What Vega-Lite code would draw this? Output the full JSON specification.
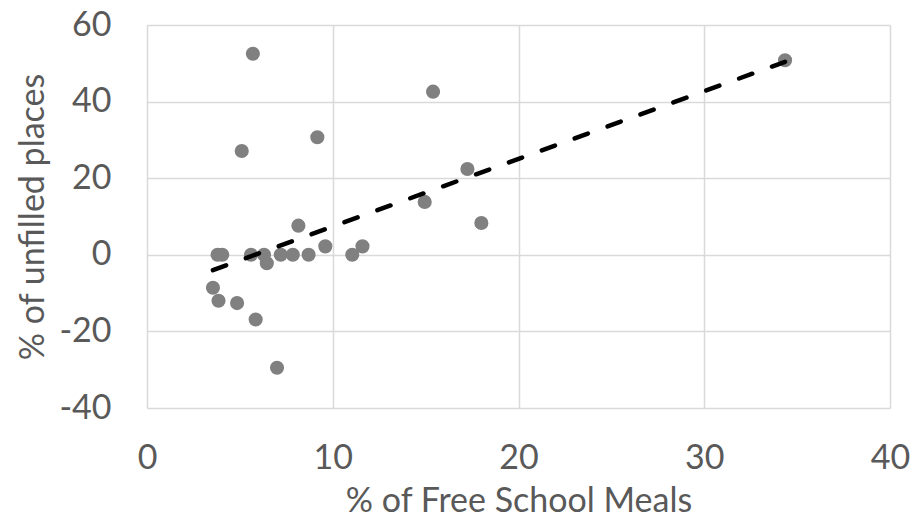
{
  "$schema": "https://vega.github.io/schema/vega-lite/v6.json",
  "width": 743,
  "height": 383,
  "autosize": {"type": "none"},
  "padding": {"left": 147, "top": 25, "right": 23, "bottom": 117},
  "background": "white",
  "config": {
    "view": {"stroke": null},
    "font": "Lato"
  },
  "datasets": {
    "pts": [
      {"fsm": 3.55, "unfilled": -8.6},
      {"fsm": 3.8, "unfilled": 0},
      {"fsm": 4.05, "unfilled": 0},
      {"fsm": 3.85, "unfilled": -12.0},
      {"fsm": 4.85, "unfilled": -12.6},
      {"fsm": 5.1, "unfilled": 27.1},
      {"fsm": 5.7, "unfilled": 52.5},
      {"fsm": 5.6, "unfilled": 0},
      {"fsm": 5.85, "unfilled": -16.9},
      {"fsm": 6.45, "unfilled": -2.2},
      {"fsm": 6.3, "unfilled": 0},
      {"fsm": 7.0, "unfilled": -29.5},
      {"fsm": 7.2, "unfilled": 0},
      {"fsm": 7.85, "unfilled": 0},
      {"fsm": 8.15, "unfilled": 7.6},
      {"fsm": 8.7, "unfilled": 0},
      {"fsm": 9.17, "unfilled": 30.7},
      {"fsm": 9.6, "unfilled": 2.2},
      {"fsm": 11.05, "unfilled": 0},
      {"fsm": 11.6, "unfilled": 2.2},
      {"fsm": 14.95, "unfilled": 13.8},
      {"fsm": 15.4, "unfilled": 42.6},
      {"fsm": 17.25, "unfilled": 22.4},
      {"fsm": 18.0, "unfilled": 8.3},
      {"fsm": 34.35, "unfilled": 50.8}
    ],
    "trend": [
      {"fsm": 3.55, "unfilled": -4.0},
      {"fsm": 34.35, "unfilled": 50.4}
    ]
  },
  "layer": [
    {
      "data": {"name": "pts"},
      "mark": {"type": "circle", "size": 200, "color": "#808080", "opacity": 1},
      "encoding": {
        "x": {
          "field": "fsm", "type": "quantitative",
          "scale": {"domain": [0, 40], "nice": false, "zero": false},
          "axis": {
            "title": "% of Free School Meals",
            "values": [0, 10, 20, 30, 40],
            "labelExpr": "'' + datum.value",
            "labelFlush": false,
            "domain": false, "ticks": false,
            "grid": true, "gridColor": "#d9d9d9", "gridWidth": 1.5,
            "labelFontSize": 34, "labelColor": "#595959", "labelPadding": 33,
            "labelFont": "Lato",
            "titleFontSize": 34, "titleColor": "#595959", "titleFontWeight": "normal",
            "titleFont": "Lato", "titlePadding": 9
          }
        },
        "y": {
          "field": "unfilled", "type": "quantitative",
          "scale": {"domain": [-40, 60], "nice": false, "zero": false},
          "axis": {
            "title": "% of unfilled places",
            "values": [-40, -20, 0, 20, 40, 60],
            "labelExpr": "'' + datum.value",
            "labelFlush": false,
            "domain": false, "ticks": false,
            "grid": true, "gridColor": "#d9d9d9", "gridWidth": 1.5,
            "labelFontSize": 34, "labelColor": "#595959", "labelPadding": 36,
            "labelFont": "Lato",
            "titleFontSize": 34, "titleColor": "#595959", "titleFontWeight": "normal",
            "titleFont": "Lato", "titlePadding": 8
          }
        }
      }
    },
    {
      "data": {"name": "trend"},
      "mark": {"type": "line", "color": "#000000", "strokeWidth": 4.5, "strokeDash": [14, 21], "strokeCap": "round"},
      "encoding": {
        "x": {"field": "fsm", "type": "quantitative"},
        "y": {"field": "unfilled", "type": "quantitative"}
      }
    }
  ]
}
